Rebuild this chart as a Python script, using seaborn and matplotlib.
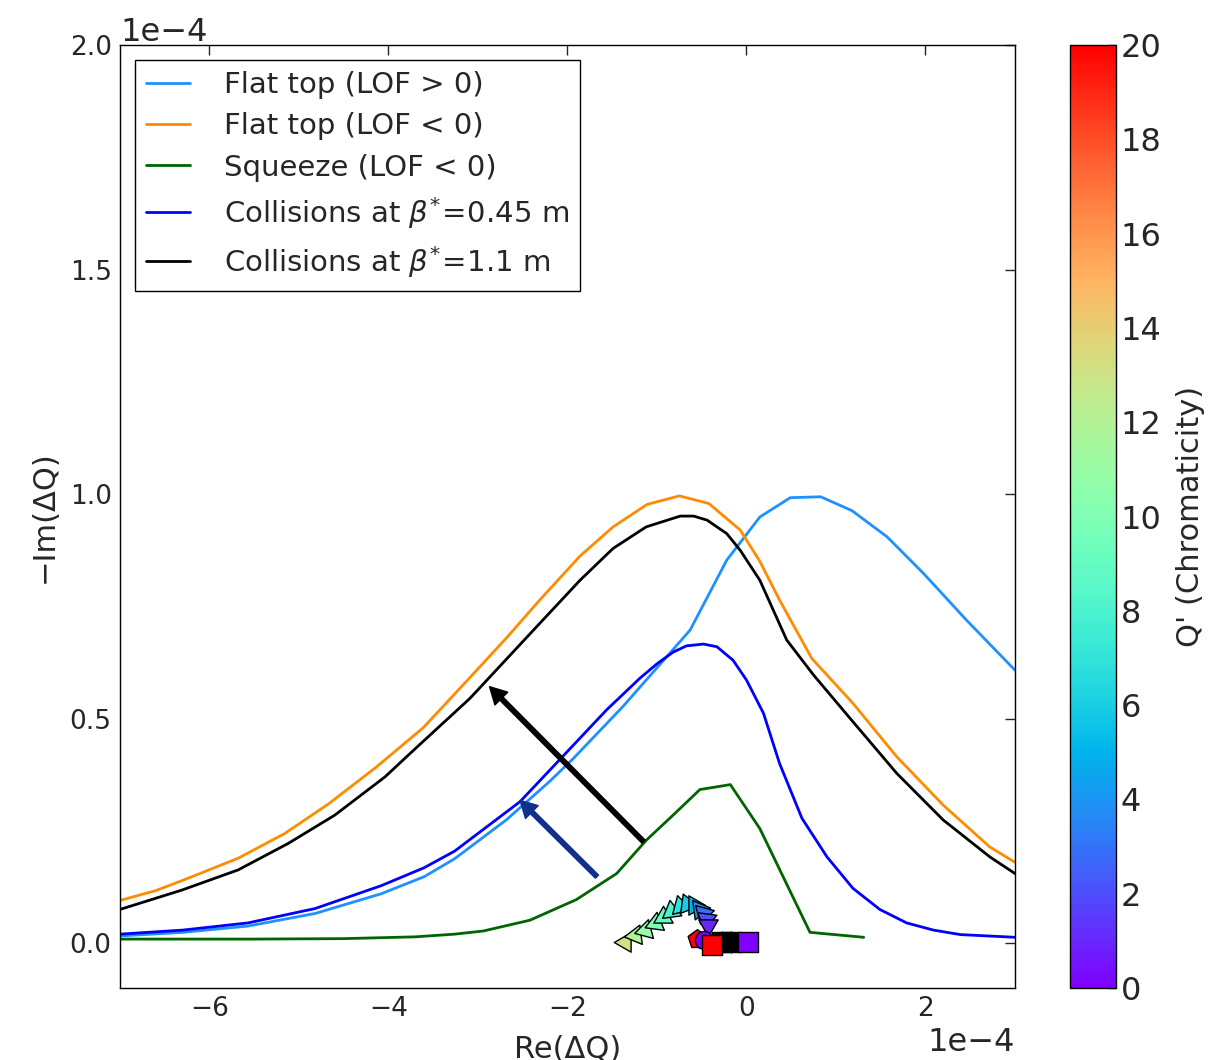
import numpy as np
import pandas as pd
import matplotlib
matplotlib.use("Agg")
import matplotlib.pyplot as plt
from matplotlib import cm, colors
import seaborn as sns

# Tune-shift values, in units of 1e-4
SCALE = 1e-4

flat_pos_re = [-7.0, -6.3, -5.57, -4.82, -4.08, -3.6, -3.26, -2.68, -2.2, -1.94, -1.38,
               -0.63, -0.22, 0.15, 0.49, 0.83, 1.18, 1.57, 1.98, 2.46, 3.0]
flat_pos_im = [0.016, 0.024, 0.038, 0.066, 0.11, 0.148, 0.188, 0.275, 0.36, 0.41, 0.527,
               0.697, 0.853, 0.949, 0.992, 0.994, 0.963, 0.905, 0.823, 0.719, 0.608]

flat_neg_re = [-7.0, -6.6, -6.27, -5.68, -5.16, -4.67, -4.13, -3.61, -3.05, -2.68, -2.31,
               -1.86, -1.49, -1.11, -0.75, -0.42, -0.07, 0.15, 0.37, 0.73, 1.19, 1.68,
               2.2, 2.72, 3.0]
flat_neg_im = [0.095, 0.117, 0.142, 0.189, 0.244, 0.31, 0.393, 0.48, 0.60, 0.68, 0.764,
               0.862, 0.927, 0.977, 0.996, 0.979, 0.92, 0.85, 0.764, 0.634, 0.534, 0.415,
               0.307, 0.214, 0.18]

squeeze_re = [-7.0, -5.5, -4.5, -3.7, -3.26, -2.94, -2.42, -1.9, -1.45, -1.12, -0.82,
              -0.52, -0.18, 0.15, 0.71, 1.31]
squeeze_im = [0.009, 0.009, 0.010, 0.014, 0.020, 0.027, 0.051, 0.097, 0.155, 0.229,
              0.285, 0.342, 0.353, 0.255, 0.024, 0.013]

coll045_re = [-7.0, -6.3, -5.57, -4.82, -4.08, -3.6, -3.26, -2.53, -2.08, -1.56, -1.19,
              -1.0, -0.82, -0.67, -0.48, -0.33, -0.15, 0.0, 0.19, 0.37, 0.62, 0.9, 1.19,
              1.49, 1.79, 2.09, 2.39, 3.0]
coll045_im = [0.02, 0.029, 0.045, 0.077, 0.128, 0.168, 0.205, 0.315, 0.41, 0.52, 0.59,
              0.622, 0.648, 0.662, 0.666, 0.66, 0.63, 0.586, 0.512, 0.4, 0.278, 0.192,
              0.122, 0.075, 0.045, 0.029, 0.019, 0.013]

coll11_re = [-7.0, -6.31, -5.68, -5.12, -4.6, -4.04, -3.69, -3.09, -2.31, -1.86, -1.49,
             -1.12, -0.74, -0.59, -0.44, -0.22, -0.07, 0.15, 0.45, 0.75, 1.19, 1.68,
             2.2, 2.72, 3.0]
coll11_im = [0.075, 0.118, 0.163, 0.222, 0.285, 0.37, 0.435, 0.545, 0.712, 0.808, 0.879,
             0.927, 0.951, 0.951, 0.942, 0.912, 0.875, 0.808, 0.675, 0.597, 0.493, 0.378,
             0.274, 0.192, 0.155]

# Chromaticity scan
scan_q = [13, 12, 11, 10, 9, 8, 7, 6, 5, 4, 3, 2, 1]
scan_re = [-1.36, -1.25, -1.13, -1.02, -0.93, -0.84, -0.74, -0.66, -0.59, -0.53, -0.48,
           -0.45, -0.43]
scan_im = [0.003, 0.018, 0.030, 0.044, 0.059, 0.072, 0.082, 0.088, 0.085, 0.077, 0.066,
           0.053, 0.040]

# End points of the scans
end_q = [20, 0, 20, 0]
end_re = [-0.55, -0.47, -0.38, 0.02]
end_im = [0.010, 0.008, -0.004, 0.003]
end_marker = ["p", "o", "s", "s"]
ref_re = [-0.27, -0.17]
ref_im = [0.002, 0.002]

# Arrows: (tail, tip)
arrow_black = [(-1.15, 0.226), (-2.87, 0.571)]
arrow_navy = [(-1.67, 0.148), (-2.53, 0.318)]

sns.set_style("white")
plt.rcParams.update({
    "font.family": ["DejaVu Sans"],
    "mathtext.fontset": "dejavusans",
    "xtick.direction": "in",
    "ytick.direction": "in",
    "axes.edgecolor": "black",
    "axes.linewidth": 1.0,
})

fig = plt.figure(figsize=(12.28, 10.6), dpi=100)
ax = fig.add_axes([0.0977, 0.0679, 0.7288, 0.8896])
cax = fig.add_axes([0.8713, 0.0679, 0.0375, 0.8896])

series = [
    (flat_pos_re, flat_pos_im, "#1e90ff", "Flat top (LOF > 0)"),
    (flat_neg_re, flat_neg_im, "#ff8c00", "Flat top (LOF < 0)"),
    (squeeze_re, squeeze_im, "#006400", "Squeeze (LOF < 0)"),
    (coll045_re, coll045_im, "#0000ff", r"Collisions at $\beta^{*}\!=\!0.45$ m"),
    (coll11_re, coll11_im, "#000000", r"Collisions at $\beta^{*}\!=\!1.1$ m"),
]
for re, im, col, lab in series:
    df = pd.DataFrame({"re": np.array(re) * SCALE, "im": np.array(im) * SCALE})
    sns.lineplot(data=df, x="re", y="im", ax=ax, color=col, lw=2, sort=False,
                 estimator=None, label=lab, legend=False)

for (tail, tip), col in [(arrow_black, "black"), (arrow_navy, "#10308c")]:
    ax.annotate("", xy=(tip[0] * SCALE, tip[1] * SCALE),
                xytext=(tail[0] * SCALE, tail[1] * SCALE),
                arrowprops=dict(facecolor=col, edgecolor=col, width=3.2,
                                headwidth=13, headlength=12, shrink=0))

cmap = plt.get_cmap("rainbow")
norm = colors.Normalize(vmin=0, vmax=20)

# scan markers: triangles turning with chromaticity
for q, r, i in zip(scan_q, scan_re, scan_im):
    ang = 180 - (q - 1) * 90 / 12
    sns.scatterplot(x=[r * SCALE], y=[i * SCALE], ax=ax, marker=(3, 0, ang), s=260,
                    color=cmap(norm(q)), edgecolor="black", linewidth=1, zorder=5)

sns.scatterplot(x=[end_re[0] * SCALE], y=[end_im[0] * SCALE], ax=ax, marker=end_marker[0],
                s=200, color=cmap(norm(end_q[0])), edgecolor="black", linewidth=1, zorder=5)
sns.scatterplot(x=[end_re[1] * SCALE], y=[end_im[1] * SCALE], ax=ax, marker=end_marker[1],
                s=170, color=cmap(norm(end_q[1])), edgecolor="black", linewidth=1, zorder=5)
sns.scatterplot(x=np.array(ref_re) * SCALE, y=np.array(ref_im) * SCALE, ax=ax, marker="h",
                s=220, color="black", edgecolor="black", linewidth=1, zorder=6)
sns.scatterplot(x=np.array(ref_re) * SCALE, y=np.array(ref_im) * SCALE, ax=ax, marker="s",
                s=190, color="black", edgecolor="black", linewidth=1, zorder=6)
for k in (2, 3):
    sns.scatterplot(x=[end_re[k] * SCALE], y=[end_im[k] * SCALE], ax=ax,
                    marker=end_marker[k], s=200, color=cmap(norm(end_q[k])),
                    edgecolor="black", linewidth=1, zorder=7)

ax.set_xlim(-7e-4, 3e-4)
ax.set_ylim(-0.1e-4, 2.0e-4)
ax.set_xticks(np.arange(-6, 3, 2) * SCALE)
ax.set_yticks(np.arange(0, 2.01, 0.5) * SCALE)
ax.ticklabel_format(axis="both", style="sci", scilimits=(0, 0), useMathText=False)
ax.tick_params(axis="both", which="major", direction="in", length=7, width=1,
               top=True, right=True, labelsize=19, pad=6)
ax.xaxis.get_offset_text().set_fontsize(23)
ax.yaxis.get_offset_text().set_fontsize(23)
ax.set_xlabel("Re(ΔQ)", fontsize=22, labelpad=9)
ax.set_ylabel("\u2212Im(ΔQ)", fontsize=22, labelpad=8)
for sp in ax.spines.values():
    sp.set_visible(True)
    sp.set_color("black")

leg = ax.legend(loc="upper left", fontsize=21, frameon=True, fancybox=False,
                edgecolor="black", framealpha=1, handlelength=1.5, handletextpad=1.15,
                labelspacing=0.45, borderpad=0.4, borderaxespad=0.5)
leg.get_frame().set_linewidth(1.0)

sm = cm.ScalarMappable(norm=norm, cmap=cmap)
sm.set_array([])
cbar = fig.colorbar(sm, cax=cax, ticks=np.arange(0, 21, 2))
cbar.ax.tick_params(direction="in", length=6, labelsize=23, width=1)
cbar.outline.set_linewidth(1.0)
cbar.set_label("Q' (Chromaticity)", fontsize=22, labelpad=10)

fig.savefig("out.png", dpi=100, facecolor="white")
